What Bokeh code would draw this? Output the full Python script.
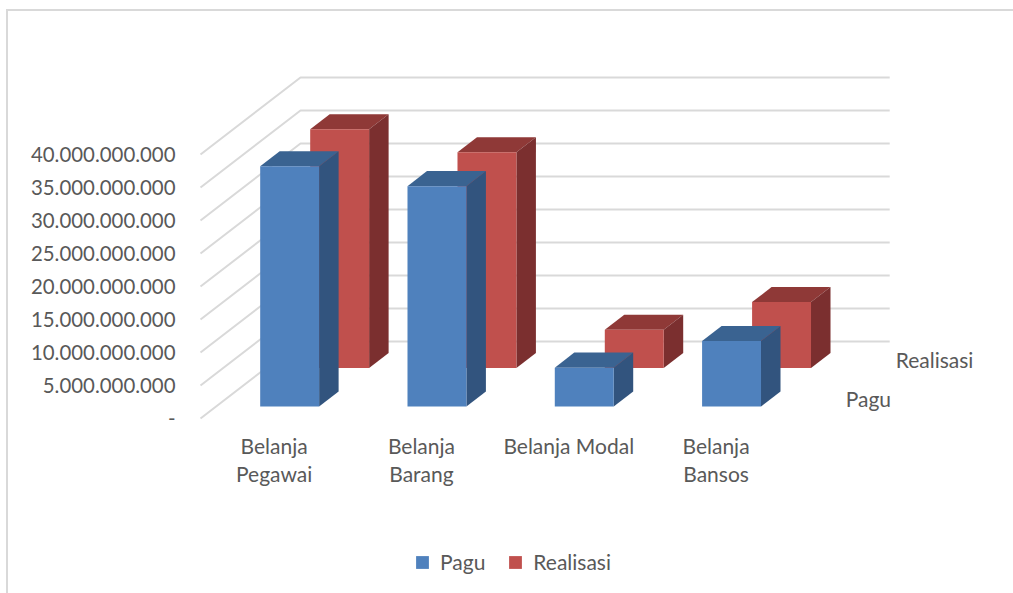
from bokeh.plotting import figure
from bokeh.models import Range1d, FixedTicker, Legend, LegendItem
from bokeh.core.properties import value
from bokeh.embed import file_html
from bokeh.resources import INLINE

categories = ["Belanja\nPegawai", "Belanja\nBarang", "Belanja Modal", "Belanja\nBansos"]
series_names = ["Pagu", "Realisasi"]
pagu = [36400000000, 33400000000, 5900000000, 9950000000]
realisasi = [36200000000, 32700000000, 5800000000, 10000000000]
tick_values = [0, 5000000000, 10000000000, 15000000000, 20000000000,
               25000000000, 30000000000, 35000000000, 40000000000]
tick_labels = ["-", "5.000.000.000", "10.000.000.000", "15.000.000.000", "20.000.000.000",
               "25.000.000.000", "30.000.000.000", "35.000.000.000", "40.000.000.000"]

FONT = "Lato"
TXT = "#595959"
FS = "21px"
GRID = "#d9d9d9"

# oblique projection: depth shifts data coordinates along both axes
PX_PER_CAT = 147.3
PX_PER_VAL = 33 / 5e9
DX = 50 / PX_PER_CAT      # category units per series of depth
DY = 38.5 / PX_PER_VAL    # value units per series of depth


def px(c, d):
    return c + d * DX


def py(v, d):
    return v + d * DY


p = figure(frame_width=823, frame_height=582, min_border_left=182, min_border_right=0,
           min_border_top=0, min_border_bottom=0, output_backend="svg", toolbar_location=None,
           x_range=Range1d(-10 / PX_PER_CAT, 813 / PX_PER_CAT),
           y_range=Range1d(-175 / PX_PER_VAL, 407 / PX_PER_VAL))
p.margin = (9, 0, 0, 6)
p.styles = {"border-top": "2px solid #d9d9d9", "border-left": "2px solid #d9d9d9"}
p.outline_line_color = None
p.xgrid.visible = False
p.ygrid.visible = False
p.xaxis.visible = False

ax = p.yaxis[0]
ax.ticker = FixedTicker(ticks=tick_values)
ax.major_label_overrides = dict(zip(tick_values, tick_labels))
ax.axis_line_color = None
ax.major_tick_line_color = None
ax.minor_tick_line_color = None
ax.major_label_standoff = 9
ax.major_label_text_font = FONT
ax.major_label_text_font_size = "20.4px"
ax.major_label_text_color = TXT

n = len(categories)

# category labels under the front edge of the floor
p.text(x=[i + 0.5 for i in range(n)], y=[0] * n, text=categories, y_offset=14,
       text_baseline="top", text_align="center", text_line_height=1.15,
       text_font=value(FONT), text_font_size=FS, text_color=TXT)

# walls
depth = len(series_names)
for v in tick_values:
    p.line([px(0, 0), px(0, depth), px(n, depth)], [py(v, 0), py(v, depth), py(v, depth)],
           line_color=GRID, line_width=2)

COLORS = {
    "Pagu": ("#4f81bd", "#3a6391", "#32547e"),
    "Realisasi": ("#c0504d", "#8f3937", "#7b2f2f"),
}
rows = {"Pagu": pagu, "Realisasi": realisasi}
legend_items = {}
for s in reversed(range(depth)):
    name = series_names[s]
    vals = rows[name]
    front_c, top_c, side_c = COLORS[name]
    d0, d1 = s + 0.31, s + 0.70
    fx, fy, tx, ty, sx, sy = [], [], [], [], [], []
    for i, v in enumerate(vals):
        c0, c1 = i + 0.30, i + 0.70
        fx.append([px(c0, d0), px(c1, d0), px(c1, d0), px(c0, d0)])
        fy.append([py(0, d0), py(0, d0), py(v, d0), py(v, d0)])
        tx.append([px(c0, d0), px(c1, d0), px(c1, d1), px(c0, d1)])
        ty.append([py(v, d0), py(v, d0), py(v, d1), py(v, d1)])
        sx.append([px(c1, d0), px(c1, d1), px(c1, d1), px(c1, d0)])
        sy.append([py(0, d0), py(0, d1), py(v, d1), py(v, d0)])
    p.patches(tx, ty, fill_color=top_c, line_color=None)
    p.patches(sx, sy, fill_color=side_c, line_color=None)
    legend_items[name] = p.patches(fx, fy, fill_color=front_c, line_color=None)

# depth-axis labels
p.text(x=[px(n, s + 0.5) for s in range(depth)], y=[py(0, s + 0.5) for s in range(depth)],
       text=series_names, x_offset=31, y_offset=-1, text_baseline="middle", text_align="left",
       text_font=value(FONT), text_font_size=FS, text_color=TXT)

legend = Legend(items=[LegendItem(label=nm, renderers=[legend_items[nm]]) for nm in series_names],
                orientation="horizontal", location=(224, 19), border_line_color=None,
                background_fill_alpha=0, padding=0, margin=0, spacing=22,
                glyph_width=16, glyph_height=16, label_standoff=10,
                label_text_font=FONT, label_text_font_size=FS, label_text_color=TXT)
p.add_layout(legend)

open("out.html", "w").write(file_html(p, INLINE))
